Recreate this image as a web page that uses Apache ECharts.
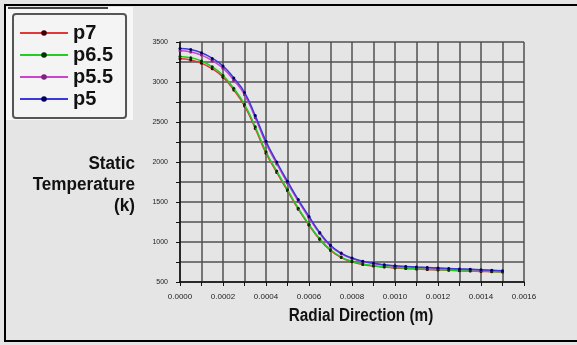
<!DOCTYPE html>
<html><head><meta charset="utf-8">
<script src="https://cdn.jsdelivr.net/npm/echarts@6/dist/echarts.min.js"></script>
<style>html,body{margin:0;padding:0;background:#e5e5e5}#c{width:577px;height:345px}</style>
</head><body><div id="c"></div>
<script>
const radius = [0,0.00005,0.0001,0.00015,0.0002,0.00025,0.0003,0.00035,0.0004,0.00045,0.0005,0.00055,0.0006,0.00065,0.0007,0.00075,0.0008,0.00085,0.0009,0.00095,0.001,0.00105,0.0011,0.00115,0.0012,0.00125,0.0013,0.00135,0.0014,0.00145,0.0015];
const seriesNames = ['p7','p6.5','p5.5','p5'];
const p7   = [3290,3275,3235,3165,3060,2900,2700,2420,2110,1870,1640,1410,1210,1030,895,805,752,720,700,686,676,668,662,656,651,646,641,636,632,628,624];
const p6_5 = [3320,3304,3262,3190,3082,2922,2720,2440,2128,1886,1654,1422,1220,1040,903,812,758,725,704,690,680,672,666,660,655,650,645,640,636,632,628];
const p5_5 = [3390,3375,3336,3266,3172,3022,2842,2552,2232,1975,1737,1510,1302,1105,948,852,794,755,730,711,698,691,684,678,672,666,660,655,650,645,638];
const p5   = [3420,3405,3365,3295,3200,3050,2870,2580,2260,2000,1760,1530,1320,1120,960,862,800,760,735,715,702,695,688,682,676,670,664,659,654,648,642];
const yTicks = {min:500, max:3500, step:250, labelStep:500};
const xTicks = {min:0, max:0.0016, step:0.0001, labelStep:0.0002};

const lineColors = ['#e03838','#22cc22','#cc44cc','#3a3ad8'];
const markColors = ['#400000','#003300','#802080','#000060'];
const allData = [p7,p6_5,p5_5,p5];
const font = "'Liberation Sans',Arial,sans-serif";

const chart = echarts.init(document.getElementById('c'), null, {renderer:'canvas'});
chart.setOption({
  backgroundColor:'#e5e5e5',
  animation:false,
  grid:{left:180, right:53, top:42, bottom:63},
  legend:{
    orient:'vertical', left:13, top:14,
    padding:[8,13,8,6],
    backgroundColor:'#f4f4f4', borderColor:'#555', borderWidth:2, borderRadius:3,
    itemWidth:48, itemHeight:7, itemGap:0,
    data:seriesNames,
    textStyle:{fontFamily:font, fontWeight:'bold', fontSize:20, lineHeight:22, color:'#111'}
  },
  xAxis:{
    type:'value', min:xTicks.min, max:xTicks.max, interval:xTicks.step,
    axisLine:{lineStyle:{color:'#111', width:1.5}},
    axisTick:{show:true, length:4, lineStyle:{color:'#111'}},
    splitLine:{show:true, lineStyle:{color:'#505050', width:1.5}},
    axisLabel:{margin:11, fontFamily:font, fontSize:8, color:'#222',
      formatter:v=>{const k=Math.round(v/xTicks.step); return (k%2===0)? v.toFixed(4):'';}}
  },
  yAxis:{
    type:'value', min:yTicks.min, max:yTicks.max, interval:yTicks.step,
    axisLine:{show:true, lineStyle:{color:'#111', width:1.5}},
    axisTick:{show:true, length:4, lineStyle:{color:'#111'}},
    splitLine:{show:true, lineStyle:{color:'#505050', width:1.5}},
    axisLabel:{margin:12, fontFamily:font, fontSize:7, color:'#222',
      formatter:v=>(Math.round(v)%yTicks.labelStep===0)? String(Math.round(v)):''}
  },
  series: seriesNames.map((n,i)=>({
    name:n, type:'line', smooth:true,
    data: radius.map((r,j)=>[r, allData[i][j]]),
    symbol:'circle', symbolSize:3, showSymbol:true,
    lineStyle:{color:lineColors[i], width:1.5},
    itemStyle:{color:markColors[i]},
    z: 2+i
  })),
  graphic:[
    {type:'rect', z:-1, shape:{x:5, y:5, width:600, height:336}, style:{fill:'none', stroke:'#000', lineWidth:2}},
    {type:'rect', z:-1, shape:{x:6, y:7, width:127, height:113}, style:{fill:'#f7f7f7'}},
    {type:'line', z:-1, shape:{x1:8, y1:8, x2:108, y2:8}, style:{stroke:'#444', lineWidth:2}},
    {type:'text', x:135, y:164, scaleX:0.95, style:{text:'Static', align:'right', verticalAlign:'middle', fontFamily:font, fontWeight:'bold', fontSize:18, fill:'#111'}},
    {type:'text', x:135, y:185, scaleX:0.95, style:{text:'Temperature', align:'right', verticalAlign:'middle', fontFamily:font, fontWeight:'bold', fontSize:18, fill:'#111'}},
    {type:'text', x:135, y:206, scaleX:0.95, style:{text:'(k)', align:'right', verticalAlign:'middle', fontFamily:font, fontWeight:'bold', fontSize:18, fill:'#111'}},
    {type:'text', x:361, y:316, scaleX:0.85, style:{text:'Radial Direction (m)', align:'center', verticalAlign:'middle', fontFamily:font, fontWeight:'bold', fontSize:18, fill:'#111'}}
  ]
});
</script></body></html>
